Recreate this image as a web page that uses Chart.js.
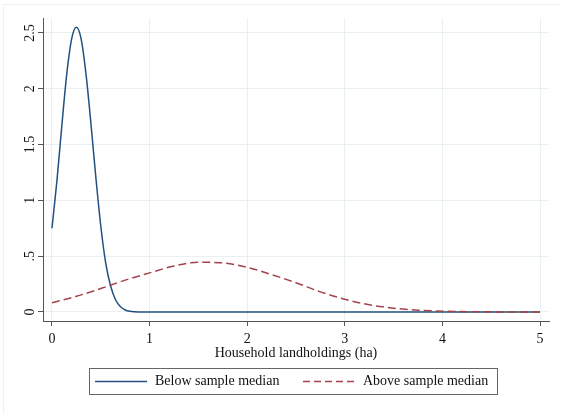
<!DOCTYPE html>
<html>
<head>
<meta charset="utf-8">
<script src="https://cdn.jsdelivr.net/npm/chart.js@4/dist/chart.umd.min.js"></script>
<style>
    html, body { margin: 0; padding: 0; background: #fff; }
    #wrap { position: relative; width: 561px; height: 413px; }
    #frame {
        position: absolute; left: 3px; top: 4px; width: 560px; height: 420px;
        border-top: 1px solid #edf2f3; border-left: 1px solid #edf2f3;
    }
</style>
</head>
<body>
<div id="wrap">
    <div id="frame"></div>
    <canvas id="densityChart" width="561" height="413"></canvas>
</div>
<script>
// Kernel density, below sample median
const belowX = [0, 0.05, 0.1, 0.15, 0.2, 0.25, 0.3, 0.35, 0.4, 0.45, 0.5, 0.55, 0.6, 0.65, 0.7, 0.75, 0.8, 0.85, 0.9, 1, 2, 3, 4, 5];
const belowY = [0.75, 1.17, 1.66, 2.12, 2.44, 2.55, 2.44, 2.12, 1.68, 1.2, 0.77, 0.44, 0.235, 0.112, 0.048, 0.018, 0.006, 0.002, 0, 0, 0, 0, 0, 0];

// Kernel density, above sample median
const aboveX = [0, 0.25, 0.5, 0.75, 1, 1.25, 1.5, 1.75, 2, 2.25, 2.5, 2.75, 3, 3.25, 3.5, 3.75, 4, 4.25, 4.5, 4.75, 5];
const aboveY = [0.083, 0.14, 0.21, 0.285, 0.35, 0.412, 0.445, 0.44, 0.4, 0.335, 0.262, 0.18, 0.114, 0.064, 0.034, 0.016, 0.007, 0.003, 0.001, 0, 0];

const seriesLabels = ['Below sample median', 'Above sample median'];
const xTicks = [0, 1, 2, 3, 4, 5];
const yTicks = [0, 0.5, 1, 1.5, 2, 2.5];
const yTickLabels = ['0', '.5', '1', '1.5', '2', '2.5'];
const xTitle = 'Household landholdings (ha)';

const FONT = "'Liberation Serif', 'Times New Roman', serif";
const BLUE = '#22517f';
const RED = '#a4434b';
const GRID = '#e8f0f1';
const AXIS = '#555';

const toPoints = (xs, ys) => xs.map((x, i) => ({ x, y: ys[i] }));

// Rotated y labels plus the boxed legend at the bottom.
const stataBits = {
    id: 'stataBits',
    afterDraw(chart) {
        const { ctx } = chart;
        const y = chart.scales.y;
        ctx.save();
        ctx.fillStyle = '#111';
        ctx.font = `14px ${FONT}`;
        ctx.textAlign = 'center';
        ctx.textBaseline = 'alphabetic';
        yTicks.forEach((v, i) => {
            ctx.save();
            ctx.translate(34, y.getPixelForValue(v));
            ctx.rotate(-Math.PI / 2);
            ctx.fillText(yTickLabels[i], 0, 0);
            ctx.restore();
        });

        // legend box
        ctx.strokeStyle = '#666';
        ctx.lineWidth = 1;
        ctx.strokeRect(89.5, 368.5, 408, 26);

        const midY = 381.5;
        ctx.lineWidth = 1.4;
        ctx.strokeStyle = BLUE;
        ctx.beginPath();
        ctx.moveTo(95, midY);
        ctx.lineTo(147, midY);
        ctx.stroke();

        ctx.strokeStyle = RED;
        ctx.setLineDash([7, 4]);
        ctx.beginPath();
        ctx.moveTo(303, midY);
        ctx.lineTo(355, midY);
        ctx.stroke();
        ctx.setLineDash([]);

        ctx.textAlign = 'left';
        ctx.textBaseline = 'middle';
        ctx.fillText(seriesLabels[0], 155, midY);
        ctx.fillText(seriesLabels[1], 363, midY);
        ctx.restore();
    },
};

new Chart(document.getElementById('densityChart'), {
    type: 'scatter',
    data: {
        datasets: [
            {
                label: seriesLabels[0],
                data: toPoints(belowX, belowY),
                showLine: true,
                borderColor: BLUE,
                borderWidth: 1.5,
                pointRadius: 0,
                cubicInterpolationMode: 'monotone',
                order: 1,
            },
            {
                label: seriesLabels[1],
                data: toPoints(aboveX, aboveY),
                showLine: true,
                borderColor: RED,
                borderWidth: 1.5,
                borderDash: [8, 4],
                pointRadius: 0,
                cubicInterpolationMode: 'monotone',
                order: 0,
            },
        ],
    },
    options: {
        responsive: false,
        animation: false,
        layout: { padding: { left: 0, right: 12, top: 18, bottom: 53 } },
        plugins: { legend: { display: false }, tooltip: { enabled: false } },
        scales: {
            x: {
                type: 'linear',
                min: -0.092,
                max: 5.092,
                afterBuildTicks: (s) => { s.ticks = xTicks.map((v) => ({ value: v })); },
                afterFit: (s) => { s.height = 39; },
                ticks: {
                    color: '#111',
                    padding: 6,
                    font: { family: FONT, size: 14, lineHeight: 1 },
                    maxRotation: 0,
                    callback: (v) => String(v),
                },
                grid: { color: GRID, tickColor: AXIS, tickLength: 5 },
                border: { color: AXIS, width: 1 },
                title: {
                    display: true,
                    text: xTitle,
                    color: '#111',
                    padding: 0,
                    font: { family: FONT, size: 14, lineHeight: 1 },
                },
            },
            y: {
                type: 'linear',
                min: -0.081,
                max: 2.634,
                afterBuildTicks: (s) => { s.ticks = yTicks.map((v) => ({ value: v })); },
                afterFit: (s) => { s.width = 43; },
                ticks: { display: false },
                grid: { color: GRID, tickColor: AXIS, tickLength: 5 },
                border: { color: AXIS, width: 1 },
            },
        },
    },
    plugins: [stataBits],
});
</script>
</body>
</html>
